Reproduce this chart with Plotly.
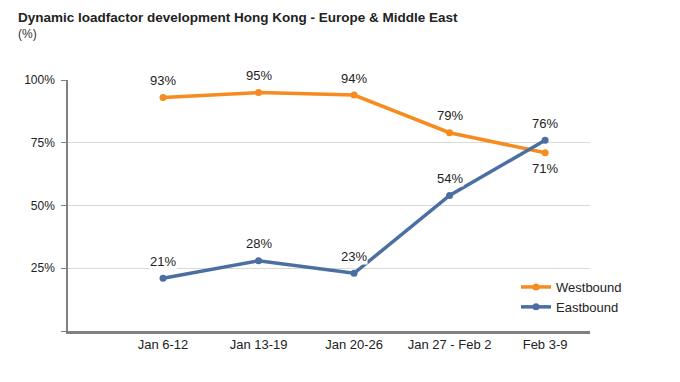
import plotly.graph_objects as go

categories = ["Jan 6-12", "Jan 13-19", "Jan 20-26", "Jan 27 - Feb 2", "Feb 3-9"]
westbound = [93, 95, 94, 79, 71]
eastbound = [21, 28, 23, 54, 76]
west_label_pos = ["above", "above", "above", "above", "below"]
east_label_pos = ["above", "above", "above", "above", "above"]
y_ticks = [0, 25, 50, 75, 100]
y_tick_text = ["", "25%", "50%", "75%", "100%"]

ORANGE = "#F68B1F"
BLUE = "#4B6EA3"
FONT = "Liberation Sans, Arial, sans-serif"

W, H = 680, 382
L, R, T, B = 68, 90, 80, 51
PW, PH = W - L - R, H - T - B


def px_to_paper(px, py):
    return (px - L) / PW, (H - B - py) / PH


xs = list(range(len(categories)))
fig = go.Figure()
fig.add_trace(go.Scatter(x=xs, y=westbound, mode="lines+markers", name="Westbound",
                         line=dict(color=ORANGE, width=3.5), marker=dict(size=7, color=ORANGE)))
fig.add_trace(go.Scatter(x=xs, y=eastbound, mode="lines+markers", name="Eastbound",
                         line=dict(color=BLUE, width=3.5), marker=dict(size=7, color=BLUE)))

annotations = []
for vals, pos in ((westbound, west_label_pos), (eastbound, east_label_pos)):
    for i, (v, p) in enumerate(zip(vals, pos)):
        annotations.append(dict(x=i, y=v, xref="x", yref="y", text=f"{v}%", showarrow=False,
                                yshift=17 if p == "above" else -16,
                                font=dict(family=FONT, size=13, color="#222222"),
                                bgcolor="white", borderpad=0))

tx, ty = px_to_paper(16, 8)
annotations.append(dict(x=tx, y=ty, xref="paper", yref="paper", xanchor="left", yanchor="top",
                        text="<b>Dynamic loadfactor development Hong Kong - Europe &amp; Middle East</b>",
                        showarrow=False, font=dict(family=FONT, size=13.5, color="#222222")))
sx, sy = px_to_paper(16, 25)
annotations.append(dict(x=sx, y=sy, xref="paper", yref="paper", xanchor="left", yanchor="top",
                        text="(%)", showarrow=False, font=dict(family=FONT, size=12, color="#333333")))

lx, ly = px_to_paper(516, 272)
fig.update_layout(
    width=W, height=H,
    margin=dict(l=L, r=R, t=T, b=B, autoexpand=False),
    paper_bgcolor="white", plot_bgcolor="white",
    font=dict(family=FONT, size=12, color="#222222"),
    showlegend=True,
    legend=dict(x=lx, y=ly, xanchor="left", yanchor="top", bgcolor="rgba(0,0,0,0)",
                font=dict(family=FONT, size=13, color="#222222"), tracegroupgap=0, itemwidth=30),
    annotations=annotations,
)
fig.update_xaxes(range=[-0.995, 4.47], tickvals=xs, ticktext=categories, showgrid=False,
                 showline=True, linecolor="#808080", linewidth=2.5, ticks="", zeroline=False,
                 tickfont=dict(family=FONT, size=13, color="#222222"), fixedrange=True)
fig.update_yaxes(range=[0, 100], tickvals=y_ticks, ticktext=y_tick_text, showgrid=True,
                 gridcolor="#D9D9D9", gridwidth=1, showline=True, linecolor="#808080", linewidth=1.5,
                 ticks="outside", ticklen=5, tickcolor="#808080", zeroline=False,
                 ticklabelstandoff=4,
                 tickfont=dict(family=FONT, size=12, color="#222222"), fixedrange=True)

fig.write_html("out.html", config={"displayModeBar": False},
               post_script="document.body.style.margin='0';document.body.style.overflow='hidden';")
